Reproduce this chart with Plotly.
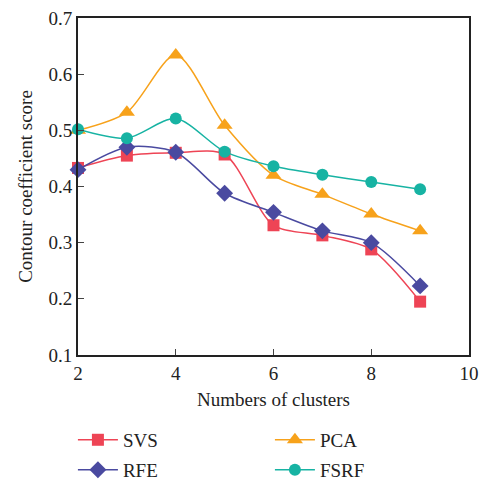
import plotly.graph_objects as go

clusters = [2, 3, 4, 5, 6, 7, 8, 9]
svs = [0.433, 0.455, 0.460, 0.457, 0.331, 0.313, 0.288, 0.195]
rfe = [0.430, 0.470, 0.461, 0.388, 0.354, 0.321, 0.300, 0.223]
pca = [0.500, 0.532, 0.634, 0.509, 0.420, 0.386, 0.351, 0.321]
fsrf = [0.502, 0.486, 0.521, 0.462, 0.436, 0.421, 0.408, 0.395]

series = [
    ("SVS", svs, "#EE4455", "square", 12, "legend"),
    ("PCA", pca, "#F7A21B", "triangle-up", 14, "legend"),
    ("RFE", rfe, "#4A4AA0", "diamond", 13, "legend2"),
    ("FSRF", fsrf, "#17B3A3", "circle", 12, "legend2"),
]

FONT = "Liberation Serif"
fig = go.Figure()
for name, vals, color, sym, size, leg in series:
    fig.add_trace(go.Scatter(
        x=clusters, y=vals, name=name, mode="lines+markers",
        line=dict(color=color, width=1.5, shape="spline", smoothing=0.8),
        marker=dict(symbol=sym, size=size, color=color),
        cliponaxis=False, legend=leg,
    ))

leg_common = dict(orientation="h", x=-0.013, xanchor="left", yanchor="middle",
                  entrywidth=142, entrywidthmode="pixels", font=dict(size=19),
                  itemwidth=40, bgcolor="rgba(0,0,0,0)")

fig.update_layout(
    width=484, height=481,
    margin=dict(l=78, r=15, t=18, b=126, autoexpand=False),
    plot_bgcolor="white", paper_bgcolor="white",
    font=dict(family=FONT, size=19, color="#222"),
    xaxis=dict(range=[2, 10], tickvals=[2, 4, 6, 8, 10], ticks="inside", ticklen=6,
               showline=True, linecolor="#222", linewidth=2, mirror=True,
               showgrid=False, zeroline=False, ticklabeloverflow="allow",
               title=dict(text="Numbers of clusters", font=dict(size=19), standoff=10)),
    yaxis=dict(range=[0.1, 0.7], tickvals=[0.1, 0.2, 0.3, 0.4, 0.5, 0.6, 0.7],
               tickformat=".1f", ticks="inside", ticklen=6,
               showline=True, linecolor="#222", linewidth=2, mirror=True,
               showgrid=False, zeroline=False, ticklabeloverflow="allow",
               title=dict(text="Contour coefficient score", font=dict(size=19), standoff=11)),
    legend=dict(y=-0.252, **leg_common),
    legend2=dict(y=-0.341, **leg_common),
)
fig.write_html("out.html", config={"displayModeBar": False},
               post_script="document.body.style.margin='0';document.body.style.overflow='hidden';")
